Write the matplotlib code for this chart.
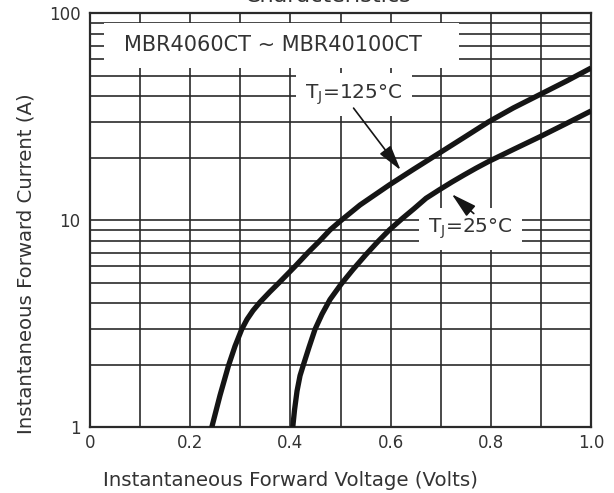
import numpy as np
import matplotlib.pyplot as plt
from matplotlib import rc
from matplotlib.patches import Rectangle
from matplotlib.ticker import FixedLocator, NullFormatter

rc('font', **{'family': 'sans-serif', 'sans-serif': ['DejaVu Sans'], 'size': 12})

# forward voltage (V) vs forward current (A)
v_125 = [0.2429, 0.2595, 0.2764, 0.2894, 0.3028, 0.3134, 0.3253, 0.3393, 0.3593, 0.3772,
         0.4092, 0.4351, 0.4591, 0.4790, 0.5010, 0.5389, 0.5974, 0.6453, 0.6966, 0.7465,
         0.7950, 0.8449, 0.8982, 0.9515, 1.0]
i_125 = [1.0, 1.43, 1.99, 2.47, 2.98, 3.33, 3.67, 4.03, 4.53, 5.0,
         6.0, 7.0, 8.0, 9.0, 10.0, 11.88, 14.85, 17.64, 21.12, 25.18,
         29.91, 34.96, 40.62, 47.2, 54.5]

v_25 = [0.4046, 0.4082, 0.4132, 0.4192, 0.4257, 0.4371, 0.4491, 0.4631, 0.4790, 0.5010,
        0.5250, 0.5509, 0.5749, 0.5974, 0.6228, 0.6467, 0.6707, 0.6966, 0.7226, 0.7465,
        0.7705, 0.7950, 0.8463, 0.8982, 0.9501, 1.0]
i_25 = [1.0, 1.215, 1.50, 1.78, 2.0, 2.44, 2.98, 3.53, 4.15, 4.92,
        5.80, 6.85, 7.92, 9.0, 10.2, 11.4, 12.8, 14.04, 15.35, 16.59,
        17.89, 19.24, 22.11, 25.4, 29.35, 33.8]

x_ticks = [0, 0.2, 0.4, 0.6, 0.8, 1.0]
x_ticklabels = ['0', '0.2', '0.4', '0.6', '0.8', '1.0']
y_ticks = [1, 10, 100]
y_ticklabels = ['1', '10', '100']

grey = '#333333'
ink = '#151515'

fig = plt.figure(figsize=(6.14, 4.93), dpi=100)
ax = fig.add_axes([0.1466, 0.1329, 0.816, 0.8398])

ax.set_yscale('log')
ax.set_xlim(0, 1.0)
ax.set_ylim(1, 100)

ax.xaxis.set_major_locator(FixedLocator(x_ticks))
ax.xaxis.set_minor_locator(FixedLocator(np.arange(0.1, 1.0, 0.2)))
ax.yaxis.set_major_locator(FixedLocator(y_ticks))
ax.yaxis.set_minor_locator(FixedLocator([k * d for d in (1, 10) for k in range(2, 10)]))
ax.yaxis.set_minor_formatter(NullFormatter())
ax.set_xticklabels(x_ticklabels)
ax.set_yticklabels(y_ticklabels)
ax.tick_params(which='both', length=0, labelsize=12, colors=grey)
ax.tick_params(axis='x', pad=5)
ax.tick_params(axis='y', pad=7)

ax.grid(which='both', color='#2a2a2a', linewidth=1.2)
ax.set_axisbelow(True)
for s in ax.spines.values():
    s.set_color('#2a2a2a')
    s.set_linewidth(1.6)

ax.plot(v_125, i_125, c=ink, linewidth=3.8, solid_capstyle='butt',
        solid_joinstyle='round', zorder=4)
ax.plot(v_25, i_25, c=ink, linewidth=3.8, solid_capstyle='butt',
        solid_joinstyle='round', zorder=4)

# white panel for the part number
ax.add_patch(Rectangle((0.028, 0.868), 0.709, 0.109, transform=ax.transAxes,
                       facecolor='white', edgecolor='none', zorder=3))
ax.text(0.365, 0.923, 'MBR4060CT ~ MBR40100CT', transform=ax.transAxes,
        ha='center', va='center', fontsize=15, color=grey, zorder=5)

box = dict(boxstyle='square,pad=0.45', facecolor='white', edgecolor='none')
ax.text(0.527, 40.5, r'T$_\mathregular{J}$=125°C', ha='center', va='center',
        fontsize=14.5, color=grey, bbox=box, zorder=5)
ax.text(0.760, 9.1, r'T$_\mathregular{J}$=25°C', ha='center', va='center',
        fontsize=14.5, color=grey, bbox=box, zorder=5)

arrow = dict(arrowstyle='-|>,head_length=1.3,head_width=0.35', color=ink, lw=1.2,
             shrinkA=0, shrinkB=0)
ax.annotate('', xy=(0.62, 17.5), xytext=(0.526, 34.9), arrowprops=arrow, zorder=6)
ax.annotate('', xy=(0.722, 13.4), xytext=(0.766, 10.8), arrowprops=arrow, zorder=6)

ax.set_xlabel('Instantaneous Forward Voltage (Volts)', fontsize=14.2, color=grey, va='center')
ax.set_ylabel('Instantaneous Forward Current (A)', fontsize=14.2, color=grey, va='center')
ax.xaxis.set_label_coords(0.401, -0.127)
ax.yaxis.set_label_coords(-0.128, 0.396)

# title is cut off at the top edge of the image
fig.text(0.534, 1 - 2.5 / 493, 'Characteristics', ha='center', va='baseline',
         fontsize=16, color=grey)

plt.savefig('out.png', dpi=100)
